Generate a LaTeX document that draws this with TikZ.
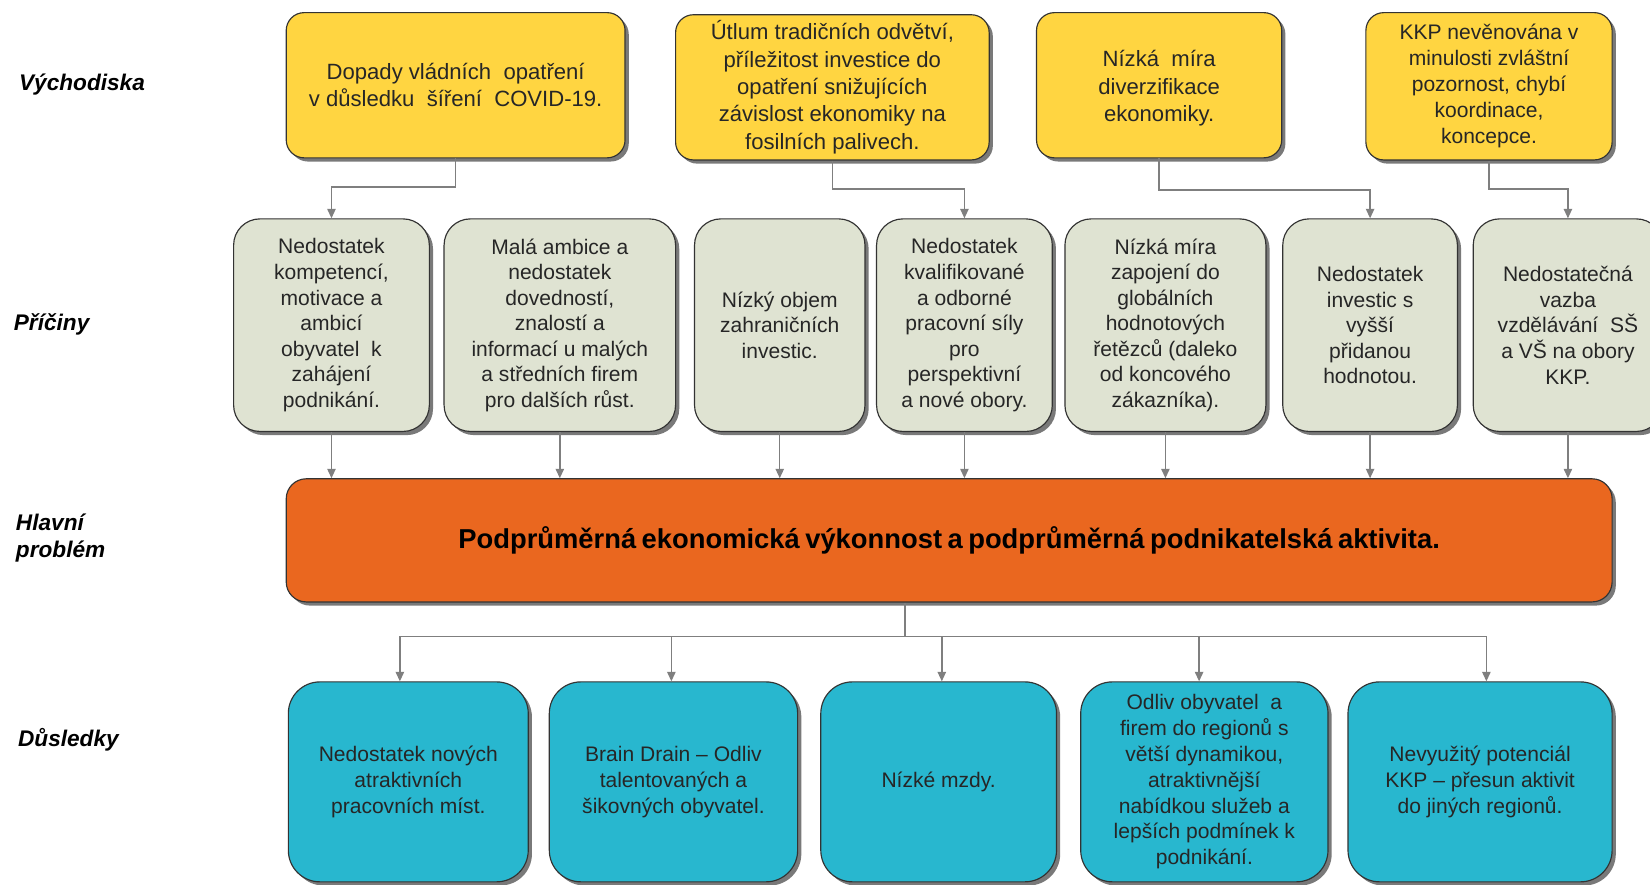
\documentclass[tikz,border=0pt]{standalone}
\usepackage{fontspec}
\setmainfont{Liberation Sans}
\usetikzlibrary{arrows.meta,shadows}
\definecolor{cyel}{HTML}{FFD541}
\definecolor{cgray}{HTML}{DFE3D2}
\definecolor{corange}{HTML}{EA671F}
\definecolor{cteal}{HTML}{28B7CF}
\definecolor{cline}{HTML}{7F7F7F}
\definecolor{ctext}{HTML}{262626}
\begin{document}
\begin{tikzpicture}[x=1pt,y=-1pt,
  boxbase/.style={draw=black!80, line width=1.1pt, inner sep=0pt, align=center, text=ctext,
     drop shadow={shadow xshift=3.5pt, shadow yshift=-3.5pt, opacity=0.75, fill=black!70}},
  ybox/.style={boxbase, fill=cyel, rounded corners=17pt, minimum height=138pt, font=\fontsize{21}{26}\selectfont},
  gbox/.style={boxbase, fill=cgray, rounded corners=25pt, minimum height=202pt, font=\fontsize{20}{24.3}\selectfont},
  tbox/.style={boxbase, fill=cteal, rounded corners=30pt, minimum height=190pt, font=\fontsize{20}{24.5}\selectfont},
  obox/.style={boxbase, fill=corange, rounded corners=19pt, text=black, font=\fontsize{26}{30}\selectfont\bfseries},
  rowlabel/.style={anchor=west, align=left, inner sep=0pt, font=\fontsize{21.5}{26}\selectfont\bfseries\itshape, text=black},
  conn/.style={draw=cline, line width=1.3pt},
  arr/.style={conn, -{Triangle[length=9pt,width=8pt]}}
]
\useasboundingbox (0,0) rectangle (1568,841);

% row labels
\node[rowlabel] (l1) at (18,80) {Východiska};
\node[rowlabel] (l2) at (13,308) {Příčiny};
\node[rowlabel] (l3) at (15,511) {Hlavní\\problém};
\node[rowlabel] (l4) at (17,703) {Důsledky};

% yellow row
\node[ybox, minimum width=322pt] (y1) at (433,81) {Dopady vládních\ \ opatření\\v důsledku\ \ šíření\ \ COVID-19.};
\node[ybox, minimum width=298pt] (y2) at (791,83) {Útlum tradičních odvětví,\\příležitost investice do\\opatření snižujících\\závislost ekonomiky na\\fosilních palivech.};
\node[ybox, minimum width=233pt] (y3) at (1101.5,81) {};
\node[font=\fontsize{21}{26}\selectfont, text=ctext, align=center, inner sep=0pt] (y3t) at (1101.5,84) {Nízká\ \ míra\\diverzifikace\\ekonomiky.};
\node[ybox, minimum width=234pt, minimum height=140pt, font=\fontsize{20}{24.7}\selectfont] (y4) at (1415,82) {KKP nevěnována v\\minulosti zvláštní\\pozornost, chybí\\koordinace,\\koncepce.};

% gray row
\node[gbox, minimum width=186pt] (g1) at (315,309) {Nedostatek\\kompetencí,\\motivace a\\ambicí\\obyvatel\ \ k\\zahájení\\podnikání.};
\node[gbox, minimum width=220pt] (g2) at (532,309) {Malá ambice a\\nedostatek\\dovedností,\\znalostí a\\informací u malých\\a středních firem\\pro dalších růst.};
\node[gbox, minimum width=162pt] (g3) at (741,309) {Nízký objem\\zahraničních\\investic.};
\node[gbox, minimum width=167pt] (g4) at (916.5,309) {Nedostatek\\kvalifikované\\a odborné\\pracovní síly\\pro\\perspektivní\\a nové obory.};
\node[gbox, minimum width=191pt] (g5) at (1107.5,309) {Nízká míra\\zapojení do\\globálních\\hodnotových\\řetězců (daleko\\od koncového\\zákazníka).};
\node[gbox, minimum width=166pt] (g6) at (1302,309) {Nedostatek\\investic s\\vyšší\\přidanou\\hodnotou.};
\node[gbox, minimum width=180pt] (g7) at (1490,309) {Nedostatečná\\vazba\\vzdělávání\ \ SŠ\\a VŠ na obory\\KKP.};

% main problem
\node[obox, minimum width=1260pt, minimum height=117pt] (o) at (902,513.5) {\spaceskip=0.2em plus 0.05em\relax Podprůměrná ekonomická výkonnost a podprůměrná podnikatelská aktivita.};

% consequences
\node[tbox, minimum width=228pt] (t1) at (388,743) {Nedostatek nových\\atraktivních\\pracovních míst.};
\node[tbox, minimum width=236pt] (t2) at (640,743) {Brain Drain – Odliv\\talentovaných a\\šikovných obyvatel.};
\node[tbox, minimum width=224pt] (t3) at (892,743) {Nízké mzdy.};
\node[tbox, minimum width=235pt] (t4) at (1144.5,743) {Odliv obyvatel\ \ a\\firem do regionů s\\větší dynamikou,\\atraktivnější\\nabídkou služeb a\\lepších podmínek k\\podnikání.};
\node[tbox, minimum width=251pt] (t5) at (1406.5,743) {Nevyužitý potenciál\\KKP – přesun aktivit\\do jiných regionů.};

% top connectors
\draw[arr] (y1.south) -- ++(0,27) -| (g1.north);
\draw[arr] (y2.south) -- ++(0,27) -| (g4.north);
\draw[arr] (y3.south) -- ++(0,30) -| (g6.north);
\draw[arr] (y4.south) -- ++(0,27) -| (g7.north);

% causes to problem
\foreach \g in {g1,g2,g3,g4,g5,g6,g7}{
  \draw[arr] (\g.south) -- (\g.south |- o.north);
}

% problem to consequences
\coordinate (hub) at (860,605);
\draw[conn] (o.south -| hub) -- (hub);
\draw[arr] (hub) -| ([xshift=-8pt]t1.north);
\draw[arr] (hub) -| ([xshift=-2pt]t2.north);
\draw[arr] (hub) -| ([xshift=3pt]t3.north);
\draw[arr] (hub) -| ([xshift=-5pt]t4.north);
\draw[arr] (hub) -| ([xshift=6pt]t5.north);
\end{tikzpicture}
\end{document}
